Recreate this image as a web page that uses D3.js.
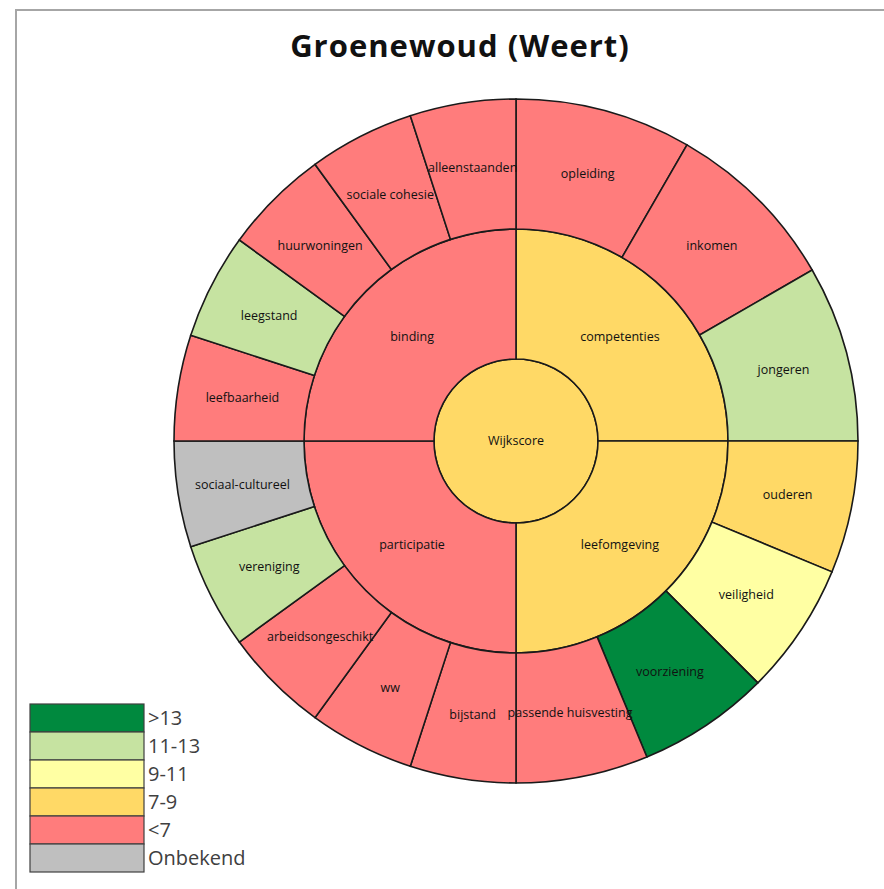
<!DOCTYPE html>
<html>
<head>
<meta charset="utf-8">
<script src="https://cdn.jsdelivr.net/npm/d3@7"></script>
<style>
  html, body { margin: 0; padding: 0; background: #fff; }
  svg { display: block; }
</style>
</head>
<body>
<div id="chart"></div>
<script>
// data uit de figuur
const title = "Groenewoud (Weert)";
const rootName = "Wijkscore";
const rootClass = "7-9";

const groups = ["competenties", "leefomgeving", "participatie", "binding"];
const groupClasses = ["7-9", "7-9", "<7", "<7"];

const indicators = [
    "opleiding", "inkomen", "jongeren",
    "ouderen", "veiligheid", "voorziening", "passende huisvesting",
    "bijstand", "ww", "arbeidsongeschikt", "vereniging", "sociaal-cultureel",
    "leefbaarheid", "leegstand", "huurwoningen", "sociale cohesie", "alleenstaanden"
];
const indicatorGroups = [
    "competenties", "competenties", "competenties",
    "leefomgeving", "leefomgeving", "leefomgeving", "leefomgeving",
    "participatie", "participatie", "participatie", "participatie", "participatie",
    "binding", "binding", "binding", "binding", "binding"
];
const indicatorClasses = [
    "<7", "<7", "11-13",
    "7-9", "9-11", ">13", "<7",
    "<7", "<7", "<7", "11-13", "Onbekend",
    "<7", "11-13", "<7", "<7", "<7"
];

// legenda
const legendLabels = [">13", "11-13", "9-11", "7-9", "<7", "Onbekend"];
const legendColors = ["#00893e", "#c6e3a1", "#ffffa3", "#ffd966", "#ff7c7c", "#bfbfbf"];

const width = 884, height = 889;
const cx = 516, cy = 441;

const color = d3.scaleOrdinal().domain(legendLabels).range(legendColors);

// straal per niveau (centrum, ring 1, ring 2)
const radius = d3.scaleLinear().domain([0, 1, 2, 3]).range([0, 82, 212, 342]);

// boom opbouwen: elke groep krijgt een kwart, indicatoren delen dat gelijk
const tree = {
    name: rootName, cls: rootClass,
    children: groups.map((g, i) => {
        const kids = indicators.filter((d, j) => indicatorGroups[j] === g);
        return {
            name: g, cls: groupClasses[i],
            children: kids.map(k => ({
                name: k,
                cls: indicatorClasses[indicators.indexOf(k)],
                value: 1 / kids.length
            }))
        };
    })
};

const root = d3.hierarchy(tree).sum(d => d.value || 0);
d3.partition().size([2 * Math.PI, 3])(root);

const arc = d3.arc()
    .startAngle(d => d.x0)
    .endAngle(d => d.x1)
    .innerRadius(d => radius(d.y0))
    .outerRadius(d => radius(d.y1));

const svg = d3.select("#chart").append("svg")
    .attr("width", width)
    .attr("height", height);

// kader
svg.append("path")
    .attr("d", `M16,${height} V10 H${width}`)
    .attr("fill", "none")
    .attr("stroke", "#a6a6a6")
    .attr("stroke-width", 2);

svg.append("text")
    .attr("x", 460)
    .attr("y", 57)
    .attr("text-anchor", "middle")
    .style("font-family", "'Open Sans', sans-serif")
    .style("font-weight", "bold")
    .style("font-size", "31px")
    .style("letter-spacing", "1px")
    .style("fill", "#111")
    .text(title);

const g = svg.append("g").attr("transform", `translate(${cx},${cy})`);

g.selectAll("path")
    .data(root.descendants())
    .enter().append("path")
    .attr("d", arc)
    .attr("fill", d => color(d.data.cls))
    .attr("stroke", "#1a1a1a")
    .attr("stroke-width", 1.6);

// labels in het midden van elk segment
g.selectAll("text")
    .data(root.descendants())
    .enter().append("text")
    .attr("transform", d => {
        if (d.depth === 0) return "translate(0,0)";
        const a = (d.x0 + d.x1) / 2;
        const r = (radius(d.y0) + radius(d.y1)) / 2;
        return `translate(${Math.sin(a) * r},${-Math.cos(a) * r})`;
    })
    .attr("dy", "0.35em")
    .attr("text-anchor", "middle")
    .style("font-family", "'Open Sans', sans-serif")
    .style("font-size", "12.5px")
    .style("fill", "#111")
    .text(d => d.data.name);

// legenda
const legend = svg.append("g").attr("transform", "translate(30,704)");

const item = legend.selectAll("g")
    .data(legendLabels)
    .enter().append("g")
    .attr("transform", (d, i) => `translate(0,${i * 28})`);

item.append("rect")
    .attr("width", 114)
    .attr("height", 28)
    .attr("fill", d => color(d))
    .attr("stroke", "#404040")
    .attr("stroke-width", 1.2);

item.append("text")
    .attr("x", 118)
    .attr("y", 21)
    .style("font-family", "'Open Sans', sans-serif")
    .style("font-size", "20px")
    .style("fill", "#404040")
    .text(d => d);
</script>
</body>
</html>
